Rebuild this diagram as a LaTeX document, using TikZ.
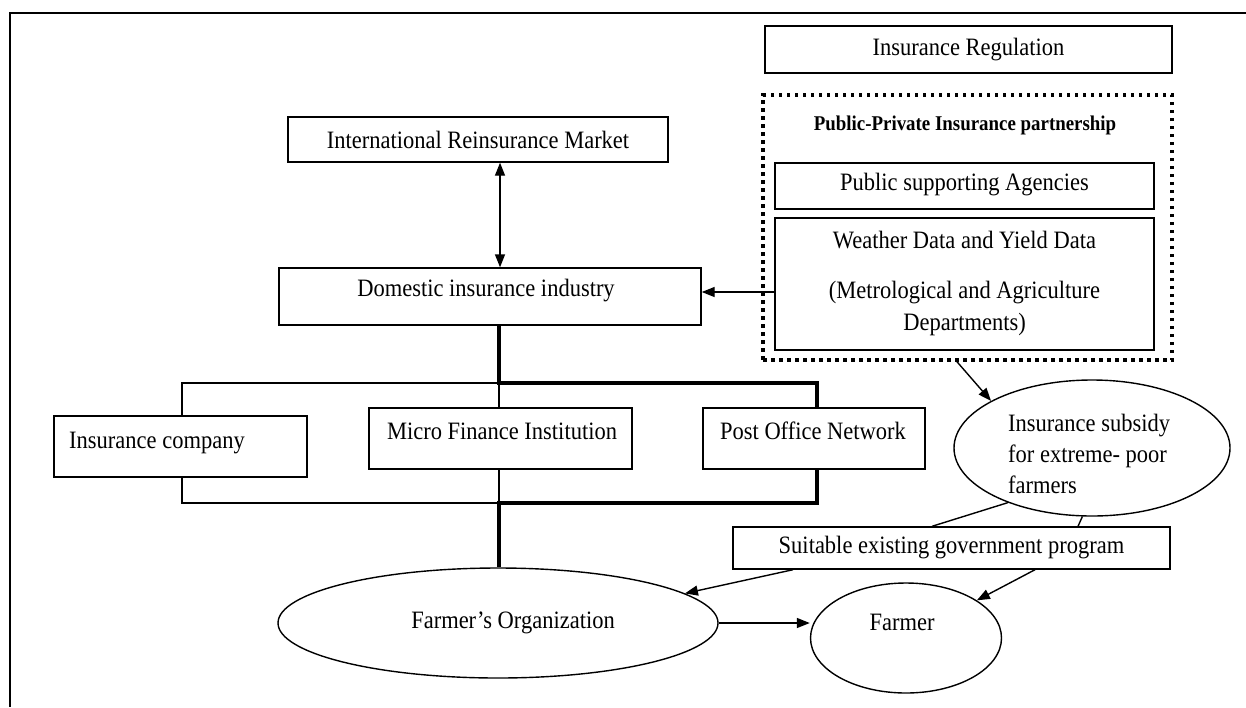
\documentclass[tikz,border=0pt]{standalone}
\usepackage{fontspec}
\setmainfont{Liberation Serif}[FakeStretch=0.9]
\usetikzlibrary{shapes.geometric,arrows.meta}
\begin{document}
\begin{tikzpicture}[x=1pt,y=-1pt,
  box/.style={draw, line width=1.4pt, rectangle, inner sep=0pt},
  oval/.style={draw, line width=1.4pt, ellipse, inner sep=0pt},
  txt/.style={inner sep=0pt, font=\fontsize{25}{31}\selectfont},
  thinline/.style={line width=1.4pt},
  heavy/.style={line width=4.5pt},
  arr/.style={line width=1.4pt, -{Triangle[length=13pt,width=10pt]}},
  darr/.style={line width=1.4pt, {Triangle[length=13pt,width=10pt]}-{Triangle[length=13pt,width=10pt]}},
  dotbox/.style={draw, line width=3.5pt, dash pattern=on 3.5pt off 4.5pt, rectangle, inner sep=0pt},
]
\useasboundingbox (0,0) rectangle (1246,707);
% frame
\coordinate (fTR) at (1246,13);
\coordinate (fTL) at (10,13);
\coordinate (fBL) at (10,707);
\draw[line width=2pt] (fTR) -- (fTL) -- (fBL);

% right column
\node[box, minimum width=407pt, minimum height=47pt] (reg) at (968.5,49.5) {};
\node[txt] (regT) at (968.5,49.5) {Insurance Regulation};
\node[dotbox, minimum width=409pt, minimum height=265pt] (ppp) at (967.5,227.5) {};
\node[txt, font=\fontsize{21}{24}\selectfont\bfseries] (pppT) at (965,125) {Public-Private Insurance partnership};
\node[box, minimum width=379pt, minimum height=46pt] (pub) at (964.5,186) {};
\node[txt] (pubT) at (964.5,185) {Public supporting Agencies};
\node[box, minimum width=379pt, minimum height=132pt] (weather) at (964.5,284) {};
\node[txt] (wT1) at (964.5,240) {Weather Data and Yield Data};
\node[txt] (wT2) at (964.5,293) {(Metrological and Agriculture};
\node[txt] (wT3) at (964.5,324) {Departments)};

% left column
\node[box, minimum width=380pt, minimum height=45pt] (intl) at (478,139.5) {};
\node[txt] (intlT) at (478,139.5) {International Reinsurance Market};
\node[box, minimum width=422pt, minimum height=57pt] (dom) at (490,296.5) {};
\node[txt] (domT) at (486,291) {Domestic insurance industry};

\node[box, minimum width=253pt, minimum height=61pt] (inscomp) at (180.5,446.5) {};
\node[txt, anchor=west] (inscompT) at (69,443) {Insurance company};
\node[box, minimum width=263pt, minimum height=61pt] (micro) at (500.5,438.5) {};
\node[txt] (microT) at (502,431) {Micro Finance Institution};
\node[box, minimum width=222pt, minimum height=61pt] (post) at (814,438.5) {};
\node[txt] (postT) at (813,431) {Post Office Network};

% ellipses and bottom boxes
\node[oval, minimum width=276pt, minimum height=136pt] (subsidy) at (1092,448) {};
\node[txt, anchor=west, align=left] (subsidyT) at (1008,454) {Insurance subsidy\\for extreme- poor\\farmers};
\node[box, minimum width=437pt, minimum height=42pt] (suit) at (951.5,548) {};
\node[txt] (suitT) at (951.5,548) {Suitable existing government program};
\node[oval, minimum width=440pt, minimum height=110pt] (forg) at (498,623) {};
\node[txt] (forgT) at (513,623) {Farmer's Organization};
\node[oval, minimum width=191pt, minimum height=110pt] (farmer) at (906,638) {};
\node[txt] (farmerT) at (902,622) {Farmer};

% connectors
\coordinate (da) at (500,0);
\draw[darr] (intl.south -| da) -- (dom.north -| da);
\coordinate (wa) at ([yshift=-8pt]weather.west);
\draw[arr] (wa) -- (dom.east |- wa);

\coordinate (j0) at (182,383);
\coordinate (j1) at (499,383);
\coordinate (j2) at (817,383);
\coordinate (j3) at (499,503);
\coordinate (j4) at (817,503);
\coordinate (j5) at (182,503);
\draw[thinline] (j1) -- (j0) -- (inscomp.north -| j0);
\draw[thinline] (j1) -- (micro.north -| j1);
\draw[thinline] (micro.south -| j3) -- (j3) -- (j5) -- (inscomp.south -| j5);
\draw[heavy] (dom.south -| j1) -- (j1) -- (j2) -- (post.north -| j2);
\draw[heavy] (post.south -| j4) -- (j4) -- (j3) -- (forg.north -| j3);

\draw[arr] ([xshift=-10.5pt]ppp.south) -- (subsidy.155);
\draw[thinline] (subsidy.213) -- ([xshift=-19.5pt]suit.north);
\draw[thinline] (subsidy.262) -- ([xshift=126.5pt]suit.north);
\draw[arr] ([xshift=-158.5pt]suit.south) -- (forg.9);
\draw[arr] ([xshift=83.5pt]suit.south) -- (farmer.28);
\draw[arr] (forg.east) -- (forg.east -| farmer.west);
\end{tikzpicture}
\end{document}
